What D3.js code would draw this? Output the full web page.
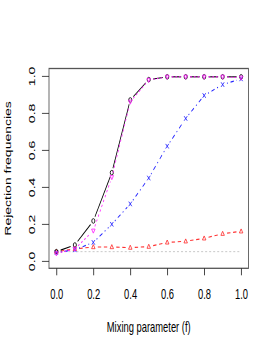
<!DOCTYPE html>
<html><head><meta charset="utf-8">
<script src="https://cdn.jsdelivr.net/npm/d3@7"></script>
<style>body{margin:0;background:#fff}svg{display:block}text{font-family:"Liberation Sans",Arial,sans-serif;fill:#000}</style>
</head><body>
<script>
const fValues = [0,0.1,0.2,0.3,0.4,0.5,0.6,0.7,0.8,0.9,1.0];
const blackCircle = [0.05,0.086,0.216,0.477,0.87,0.98,0.995,0.995,0.995,0.995,0.995];
const magentaTri = [0.04,0.065,0.163,0.452,0.86,0.978,0.995,0.995,0.995,0.995,0.99];
const blueX = [0.045,0.06,0.10,0.198,0.308,0.448,0.62,0.77,0.894,0.953,0.984];
const redTri = [0.05,0.065,0.075,0.075,0.072,0.077,0.10,0.106,0.122,0.147,0.16];
const nominalLevel = 0.05;
const xTicks = [0,0.2,0.4,0.6,0.8,1.0];
const yTicks = [0,0.2,0.4,0.6,0.8,1.0];
const xLabel = "Mixing parameter (f)";
const yLabel = "Rejection frequencies";

const W = 274, H = 354, sx = 0.67;
const WO = W / sx;
const svg = d3.select("body").append("svg").attr("width", W).attr("height", H);
const g = svg.append("g").attr("transform", `scale(${sx},1)`);

const L = 49 / sx, R = 248.5 / sx, T = 68.5, B = 268.3;
const x = d3.scaleLinear().domain([-0.04, 1.04]).range([L, R]);
const y = d3.scaleLinear().domain([-0.04, 1.04]).range([B, T]);

// reference line
g.append("line").attr("x1", x(0)).attr("x2", x(1)).attr("y1", y(nominalLevel)).attr("y2", y(nominalLevel))
  .attr("stroke", "#bebebe").attr("stroke-width", 1).attr("stroke-dasharray", "3,3");

const series = [
  {vals: redTri, color: "#ff3030", dash: "5,4", pch: "tri"},
  {vals: blueX, color: "#2020ff", dash: "1.5,4,5,4", pch: "x"},
  {vals: blackCircle, color: "#000", dash: null, pch: "circle"},
  {vals: magentaTri, color: "#ff20ff", dash: "2.5,3", pch: "itri"},
];

const gap = 4.5;
series.forEach(s => {
  const pts = fValues.map((f, i) => [x(f), y(s.vals[i])]);
  for (let i = 0; i < pts.length - 1; i++) {
    // compute in screen coords to make gap uniform
    const a = [pts[i][0] * sx, pts[i][1]], b = [pts[i+1][0] * sx, pts[i+1][1]];
    const dx = b[0] - a[0], dy = b[1] - a[1], len = Math.hypot(dx, dy);
    if (len <= 2 * gap) continue;
    const ux = dx / len, uy = dy / len;
    g.append("line")
      .attr("x1", (a[0] + ux * gap) / sx).attr("y1", a[1] + uy * gap)
      .attr("x2", (b[0] - ux * gap) / sx).attr("y2", b[1] - uy * gap)
      .attr("stroke", s.color).attr("stroke-width", 1.1)
      .attr("stroke-dasharray", s.dash);
  }
  const r = 2.3;
  pts.forEach(p => {
    if (s.pch === "circle") {
      g.append("circle").attr("cx", p[0]).attr("cy", p[1]).attr("r", r)
        .attr("fill", "none").attr("stroke", s.color).attr("stroke-width", 1);
    } else if (s.pch === "tri" || s.pch === "itri") {
      const d = s.pch === "tri" ? 1 : -1;
      const h = r * 1.6;
      g.append("path").attr("d",
        `M${p[0]},${p[1] - d * h * 0.65} L${p[0] + h * 0.7},${p[1] + d * h * 0.45} L${p[0] - h * 0.7},${p[1] + d * h * 0.45}Z`)
        .attr("fill", "none").attr("stroke", s.color).attr("stroke-width", 1);
    } else {
      g.append("path").attr("d",
        `M${p[0]-r},${p[1]-r}L${p[0]+r},${p[1]+r}M${p[0]-r},${p[1]+r}L${p[0]+r},${p[1]-r}`)
        .attr("stroke", s.color).attr("stroke-width", 1);
    }
  });
});

// box
g.append("rect").attr("x", L).attr("y", T).attr("width", R - L).attr("height", B - T)
  .attr("fill", "none").attr("stroke", "#555").attr("stroke-width", 1.3);

// x axis
const xa = g.append("g").attr("transform", `translate(0,${B})`)
  .call(d3.axisBottom(x).tickValues(xTicks).tickFormat(d3.format(".1f")).tickSize(7).tickPadding(14));
xa.select(".domain").remove();
xa.selectAll("line").attr("stroke", "#222");
xa.selectAll("text").attr("font-size", 14).attr("fill", "#000").attr("dy", null)
  .attr("y", 31);

// y axis
const ya = g.append("g").attr("transform", `translate(${L},0)`)
  .call(d3.axisLeft(y).tickValues(yTicks).tickFormat(d3.format(".1f")).tickSize(10.5));
ya.select(".domain").remove();
ya.selectAll("line").attr("stroke", "#222");
ya.selectAll("text").remove();
ya.selectAll(".tick").append("text")
  .attr("transform", `translate(${52.5 - L},0) rotate(-90)`)
  .attr("text-anchor", "middle").attr("font-size", 14).attr("fill", "#000")
  .text(d => d3.format(".1f")(d));

// labels
g.append("text").attr("x", (L + R) / 2).attr("y", 332).attr("text-anchor", "middle")
  .attr("font-size", 14).text(xLabel);
g.append("text").attr("transform", `translate(${16},${(T + B) / 2}) rotate(-90)`)
  .attr("text-anchor", "middle").attr("font-size", 14).text(yLabel);
</script>
</body></html>
